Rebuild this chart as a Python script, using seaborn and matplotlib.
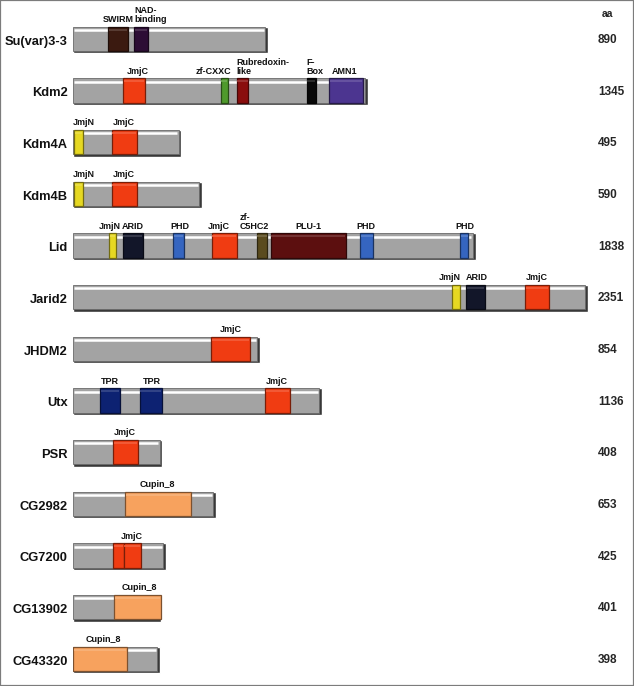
import numpy as np
import pandas as pd
import matplotlib
matplotlib.use("Agg")
import matplotlib.pyplot as plt
import matplotlib.colors as mcolors
from matplotlib.patches import Rectangle
import seaborn as sns

# ---------------- data ----------------
proteins = ["Su(var)3-3", "Kdm2", "Kdm4A", "Kdm4B", "Lid", "Jarid2", "JHDM2",
            "Utx", "PSR", "CG2982", "CG7200", "CG13902", "CG43320"]
lengths = [890, 1345, 495, 590, 1838, 2351, 854, 1136, 408, 653, 425, 401, 398]

# domains: protein, type, start (aa), end (aa)
dom_protein = ["Su(var)3-3", "Su(var)3-3",
               "Kdm2", "Kdm2", "Kdm2", "Kdm2", "Kdm2",
               "Kdm4A", "Kdm4A",
               "Kdm4B", "Kdm4B",
               "Lid", "Lid", "Lid", "Lid", "Lid", "Lid", "Lid", "Lid",
               "Jarid2", "Jarid2", "Jarid2",
               "JHDM2",
               "Utx", "Utx", "Utx",
               "PSR",
               "CG2982",
               "CG7200", "CG7200",
               "CG13902",
               "CG43320"]
dom_type = ["SWIRM", "NAD-binding",
            "JmjC", "zf-CXXC", "Rubredoxin-like", "F-Box", "AMN1",
            "JmjN", "JmjC",
            "JmjN", "JmjC",
            "JmjN", "ARID", "PHD", "JmjC", "zf-C5HC2", "PLU-1", "PHD", "PHD",
            "JmjN", "ARID", "JmjC",
            "JmjC",
            "TPR", "TPR", "JmjC",
            "JmjC",
            "Cupin_8",
            "JmjC", "JmjC",
            "Cupin_8",
            "Cupin_8"]
dom_start = [160, 279,
             230, 674, 747, 1067, 1169,
             5, 177,
             5, 177,
             166, 227, 458, 633, 839, 903, 1311, 1767,
             1731, 1795, 2064,
             630,
             123, 304, 876,
             184,
             237,
             184, 232,
             187,
             0]
dom_end = [251, 341,
           329, 706, 800, 1108, 1323,
           44, 291,
           44, 291,
           196, 318, 507, 747, 887, 1247, 1371, 1805,
           1767, 1881, 2174,
           806,
           215, 405, 991,
           295,
           537,
           232, 309,
           401,
           245]

# labels above the bars: protein, text, anchor (aa)
lab_protein = ["Su(var)3-3", "Su(var)3-3",
               "Kdm2", "Kdm2", "Kdm2", "Kdm2", "Kdm2",
               "Kdm4A", "Kdm4A", "Kdm4B", "Kdm4B",
               "Lid", "Lid", "Lid", "Lid", "Lid", "Lid", "Lid", "Lid",
               "Jarid2", "Jarid2", "Jarid2",
               "JHDM2", "Utx", "Utx", "Utx", "PSR", "CG2982", "CG7200",
               "CG13902", "CG43320"]
lab_text = ["SWIRM", "NAD-\nbinding",
            "JmjC", "zf-CXXC", "Rubredoxin-\nlike", "F-\nBox", "AMN1",
            "JmjN", "JmjC", "JmjN", "JmjC",
            "JmjN", "ARID", "PHD", "JmjC", "zf-\nC5HC2", "PLU-1", "PHD", "PHD",
            "JmjN", "ARID", "JmjC",
            "JmjC", "TPR", "TPR", "JmjC", "JmjC", "Cupin_8", "JmjC",
            "Cupin_8", "Cupin_8"]
lab_pos = [205, 279,
           295, 641, 747, 1067, 1242,
           50, 233, 50, 233,
           169, 274, 489, 667, 826, 1073, 1338, 1790,
           1721, 1845, 2119,
           719, 169, 359, 932, 237, 387, 267,
           304, 137]

# ---------------- style ----------------
dom_colors = {
    "SWIRM": "#3b1a10", "NAD-binding": "#2d0d35", "JmjC": "#f03c12",
    "zf-CXXC": "#4f9a2c", "Rubredoxin-like": "#8a0d0d", "F-Box": "#080808",
    "AMN1": "#4c3590", "JmjN": "#e6d822", "ARID": "#121629",
    "PHD": "#3565c0", "zf-C5HC2": "#5a4b1e", "PLU-1": "#5c0f0f",
    "TPR": "#0d2272", "Cupin_8": "#f7a25e",
}
left_aligned = {"NAD-\nbinding", "Rubredoxin-\nlike", "F-\nBox"}

BODY = "#a3a3a3"
SHADOW = "#383838"
BAR_H = 0.52          # in row units
SH_Y = 0.045          # bottom shadow (row units)
SH_X = 13             # right shadow (aa units)

sns.set_style("white")
plt.rcParams["font.family"] = ["Liberation Sans", "DejaVu Sans"]

W, H = 634, 686
fig = plt.figure(figsize=(W / 100, H / 100), dpi=100)
ax_left, ax_right = 73, 593
px_per_aa = 0.219
row_px = 51.67
top_px = 40 - row_px / 2
ax = fig.add_axes([ax_left / W, 1 - (top_px + 13 * row_px) / H,
                   (ax_right - ax_left) / W, 13 * row_px / H])

df = pd.DataFrame({"protein": proteins, "length": lengths})
sns.barplot(data=df, x="length", y="protein", orient="h", color=SHADOW,
            width=BAR_H, errorbar=None, ax=ax, saturation=1)

row = {p: i for i, p in enumerate(proteins)}

# gray bodies (leave shadow at bottom/right)
ax.barh([row[p] - SH_Y / 2 for p in proteins],
        [L - SH_X for L in lengths], left=0,
        height=BAR_H - SH_Y, color=BODY, edgecolor="#6a6a6a", linewidth=0.6,
        zorder=1.5)
# white highlight near the top
ax.hlines([row[p] - BAR_H / 2 + 0.065 for p in proteins],
          [4] * len(proteins), [L - SH_X - 6 for L in lengths],
          color="white", linewidth=1.8, zorder=2)


def shade(c, f):
    r, g, b = mcolors.to_rgb(c)
    if f <= 1:
        return (r * f, g * f, b * f)
    k = f - 1
    return (r + (1 - r) * k, g + (1 - g) * k, b + (1 - b) * k)


for p, t, s, e in zip(dom_protein, dom_type, dom_start, dom_end):
    c = dom_colors[t]
    y = row[p]
    ax.barh(y - SH_Y / 2, e - s, left=s, height=BAR_H - SH_Y,
            color=c, edgecolor=shade(c, 0.5), linewidth=0.9, zorder=3)
    ax.hlines(y - BAR_H / 2 + 0.06, s + 3, e - 3,
              color=shade(c, 1.18), linewidth=1.2, zorder=3.5)

for p, t, x in zip(lab_protein, lab_text, lab_pos):
    y = row[p] - BAR_H / 2 - 0.05
    ha = "left" if t in left_aligned else "center"
    ax.text(x, y, t, ha=ha, va="bottom", multialignment="left",
            fontsize=6.5, fontweight="bold", color="#111111",
            linespacing=1.0, zorder=5)

# lengths on the right
for p, L in zip(proteins, lengths):
    ax.text(1.0096, row[p], str(L), transform=ax.get_yaxis_transform(),
            ha="left", va="center", fontsize=8.5, fontweight="bold",
            clip_on=False)
ax.text(1.017, -0.5, "aa", transform=ax.get_yaxis_transform(),
        ha="left", va="center", fontsize=7.5, fontweight="bold", clip_on=False)

ax.set_xlim(0, (ax_right - ax_left) / px_per_aa)
ax.set_ylim(len(proteins) - 0.5, -0.5)
ax.set_xlabel("")
ax.set_ylabel("")
ax.set_xticks([])
ax.tick_params(axis="y", length=0, pad=4)
for lbl in ax.get_yticklabels():
    lbl.set_fontweight("bold")
    lbl.set_fontsize(9.3)
    lbl.set_color("#111111")
for sp in ax.spines.values():
    sp.set_visible(False)
ax.patch.set_alpha(0)

fig.patches.append(Rectangle((0, 0), 1, 1, transform=fig.transFigure,
                             fill=False, edgecolor="#7c7c7c", linewidth=1.6))

fig.savefig("out.png", dpi=100, facecolor="white")
